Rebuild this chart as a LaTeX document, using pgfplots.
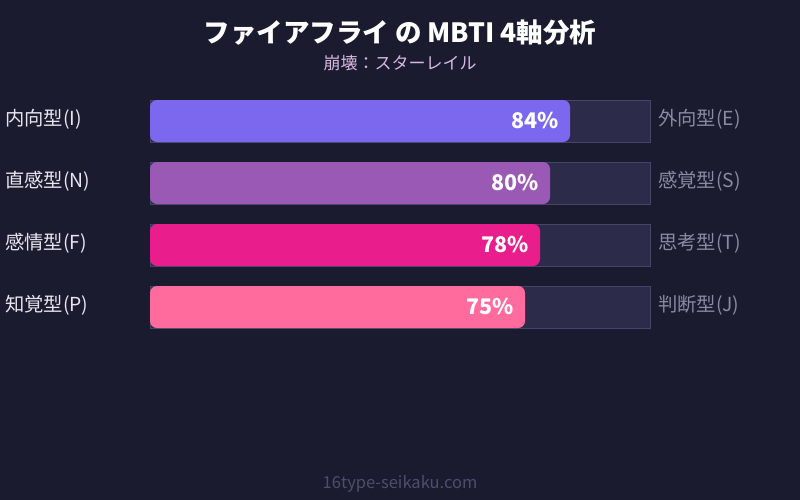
\documentclass[border=0pt]{standalone}
\usepackage{pgfplots}
\pgfplotsset{compat=1.18}
\usepackage{fontspec}
\setmainfont{Noto Sans CJK JP}
\definecolor{bg}{HTML}{1A1B2E}
\definecolor{trackfill}{HTML}{2D2B4A}
\definecolor{trackdraw}{HTML}{45456A}
\definecolor{cA}{HTML}{7B68EE}
\definecolor{cB}{HTML}{9B59B6}
\definecolor{cC}{HTML}{E91E8C}
\definecolor{cD}{HTML}{FF6B9D}
\definecolor{leftlab}{HTML}{E6E6F0}
\definecolor{rightlab}{HTML}{8A8AA0}
\definecolor{subt}{HTML}{D8B8E4}
\definecolor{foot}{HTML}{4E4E6C}
\begin{document}
\begin{tikzpicture}
\fill[bg] (0,0) rectangle (800pt,500pt);
\begin{axis}[
  at={(0,0)}, anchor=south west,
  scale only axis, width=800pt, height=500pt,
  xmin=-30, xmax=130,
  ymin=-1.951613, ymax=6.112903, y dir=reverse,
  axis lines=none, ticks=none,
  clip=false,
  /pgf/number format/assume math mode=true,
  xbar, bar width=42pt, bar shift=0pt,
  nodes near coords={\pgfmathprintnumber{\pgfplotspointmeta}\%},
  point meta=x,
]
% tracks
\addplot[fill=trackfill, draw=trackdraw, line width=0.8pt, nodes near coords={}] coordinates {(100,0) (100,1) (100,2) (100,3)};
% value bars
\addplot[fill=cA, draw=none, rounded corners=7pt,
  every node near coord/.style={anchor=east, xshift=-8pt, yshift=1pt, text=white, font=\fontsize{21.5}{24}\selectfont\bfseries}]
  coordinates {(84,0)};
\addplot[fill=cB, draw=none, rounded corners=7pt,
  every node near coord/.style={anchor=east, xshift=-8pt, yshift=1pt, text=white, font=\fontsize{21.5}{24}\selectfont\bfseries}]
  coordinates {(80,1)};
\addplot[fill=cC, draw=none, rounded corners=7pt,
  every node near coord/.style={anchor=east, xshift=-8pt, yshift=1pt, text=white, font=\fontsize{21.5}{24}\selectfont\bfseries}]
  coordinates {(78,2)};
\addplot[fill=cD, draw=none, rounded corners=7pt,
  every node near coord/.style={anchor=east, xshift=-8pt, yshift=1pt, text=white, font=\fontsize{21.5}{24}\selectfont\bfseries}]
  coordinates {(75,3)};
% left labels
\foreach \lab [count=\i from 0] in {内向型(I),直感型(N),感情型(F),知覚型(P)} {
  \edef\tmp{\noexpand\node[anchor=west, text=leftlab, yshift=1.5pt, font=\noexpand\fontsize{19.3}{22}\noexpand\selectfont, inner sep=0pt] at (axis cs:-29,\i) {\lab};}
  \tmp
}
\foreach \lab [count=\i from 0] in {外向型(E),感覚型(S),思考型(T),判断型(J)} {
  \edef\tmp{\noexpand\node[anchor=west, text=rightlab, yshift=1.5pt, font=\noexpand\fontsize{19.3}{22}\noexpand\selectfont, inner sep=0pt] at (axis cs:101.6,\i) {\lab};}
  \tmp
}
% titles
\node[text=white, font=\fontsize{26.5}{30}\selectfont\bfseries, inner sep=0pt] at (rel axis cs:0.5,0.934) {ファイアフライ の MBTI 4軸分析};
\node[text=subt, font=\fontsize{17}{20}\selectfont, inner sep=0pt] at (rel axis cs:0.5,0.874) {崩壊：スターレイル};
\node[text=foot, font=\fontsize{16.5}{18}\selectfont, inner sep=0pt] at (rel axis cs:0.5,0.032) {16type-seikaku.com};
\end{axis}
\end{tikzpicture}
\end{document}
